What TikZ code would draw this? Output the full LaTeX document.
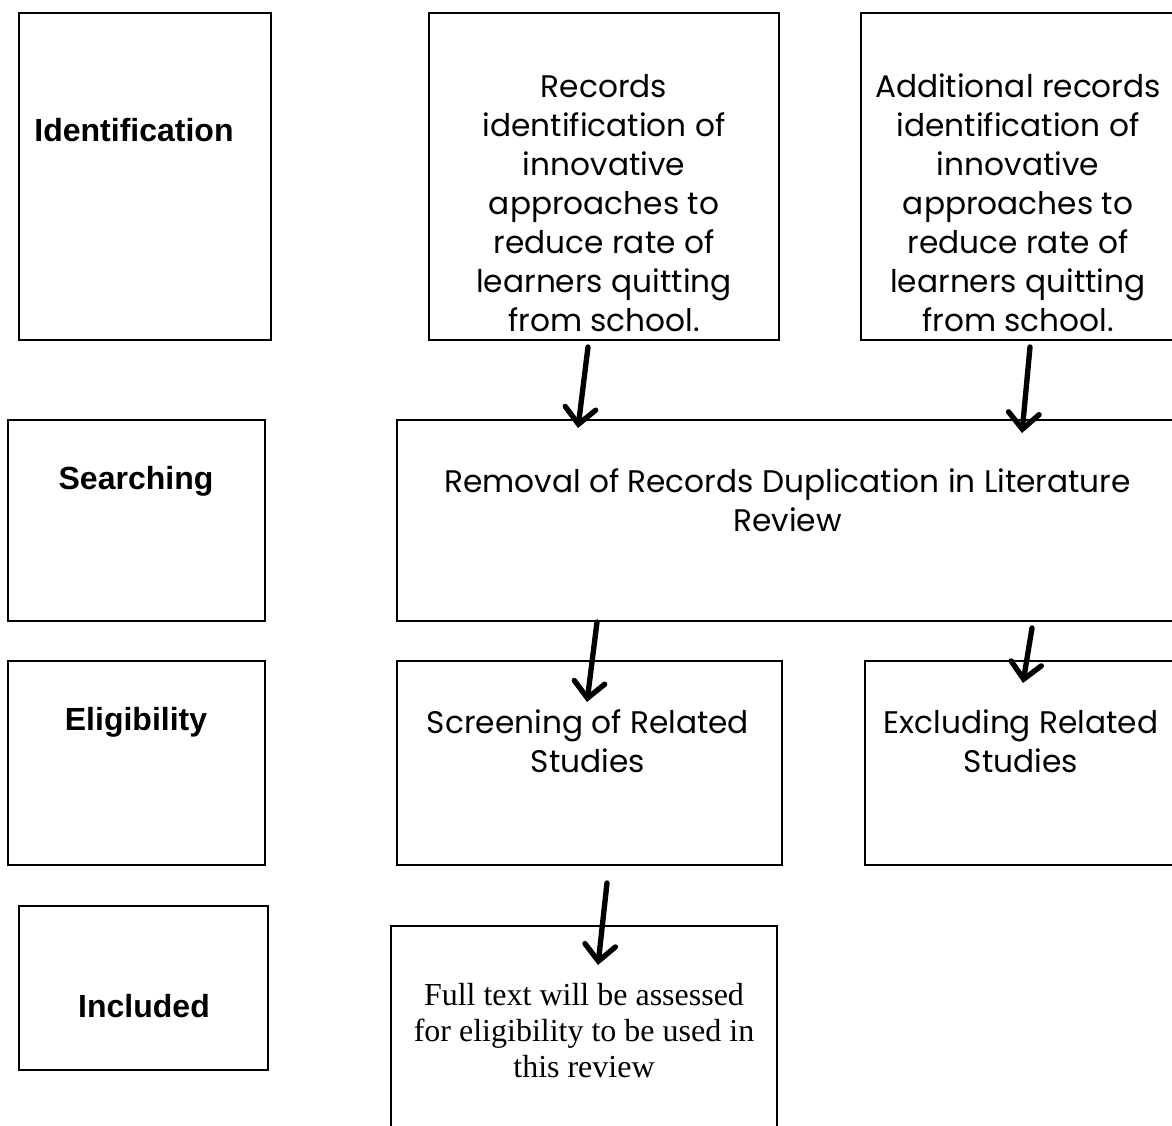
\documentclass[tikz,border=0pt]{standalone}
\usepackage{fontspec}
\setmainfont{Liberation Serif}
\newfontfamily\gothic{Poppins}
\newfontfamily\labelfont{Liberation Sans}
\usetikzlibrary{arrows.meta,fit}
\begin{document}
\begin{tikzpicture}[x=0.75pt,y=-0.75pt,
  box/.style={draw, line width=2pt, inner sep=0pt},
  lbl/.style={font=\labelfont\bfseries\fontsize{24}{29}\selectfont, inner sep=0pt},
  gtxt/.style={font=\gothic\fontsize{23.4}{29.25}\selectfont, align=center, inner sep=0pt},
  ttxt/.style={font=\fontsize{24}{27}\selectfont, align=center, inner sep=0pt},
  flow/.style={line width=4pt, line cap=round, -{Straight Barb[length=12pt,width=23pt,line cap=round]}},
]
\useasboundingbox (0,0) rectangle (1172,1126);
% stage boxes
\node[box, fit={(19,13) (271,340)}] (idb) {};
\node[box, fit={(8,420) (265,621)}] (seb) {};
\node[box, fit={(8,661) (265,865)}] (elb) {};
\node[box, fit={(19,906) (268,1070)}] (inb) {};
\node[lbl] (idt) at (134,130) {Identification};
\node[lbl] (set) at (136,481) {Searching};
\node[lbl] (elt) at (136,722) {Eligibility};
\node[lbl] (int) at (144,1006) {Included};
% flow boxes
\node[box, fit={(429,13) (779,340)}] (rec) {};
\node[box, fit={(861,13) (1176,340)}] (add) {};
\node[box, fit={(397,420) (1178,621)}] (rem) {};
\node[box, fit={(397,661) (782,865)}] (scr) {};
\node[box, fit={(865,661) (1178,865)}] (exc) {};
\node[box, fit={(391,926) (777,1140)}] (ful) {};
\node[gtxt] (rect) at (604,203) {Records\\identification of\\innovative\\approaches to\\reduce rate of\\learners quitting\\from school.};
\node[gtxt] (addt) at (1018,203) {Additional records\\identification of\\innovative\\approaches to\\reduce rate of\\learners quitting\\from school.};
\node[gtxt] (remt) at (787.5,500.5) {Removal of Records Duplication in Literature\\Review};
\node[gtxt] (scrt) at (588,741.5) {Screening of Related\\Studies};
\node[gtxt] (exct) at (1021,741.5) {Excluding Related\\Studies};
\node[ttxt] (fult) at (584,1031) {Full text will be assessed\\for eligibility to be used in\\this review};
% arrows
\coordinate (a1s) at (588,347); \coordinate (a1e) at (578,428);
\coordinate (a2s) at (1030,347); \coordinate (a2e) at (1022,433);
\coordinate (a3s) at (597,622); \coordinate (a3e) at (587,702);
\coordinate (a4s) at (1032,628); \coordinate (a4e) at (1023,683);
\coordinate (a5s) at (607,883); \coordinate (a5e) at (598,965);
\draw[flow] (a1s) -- (a1e);
\draw[flow] (a2s) -- (a2e);
\draw[flow] (a3s) -- (a3e);
\draw[flow] (a4s) -- (a4e);
\draw[flow] (a5s) -- (a5e);
\end{tikzpicture}
\end{document}
